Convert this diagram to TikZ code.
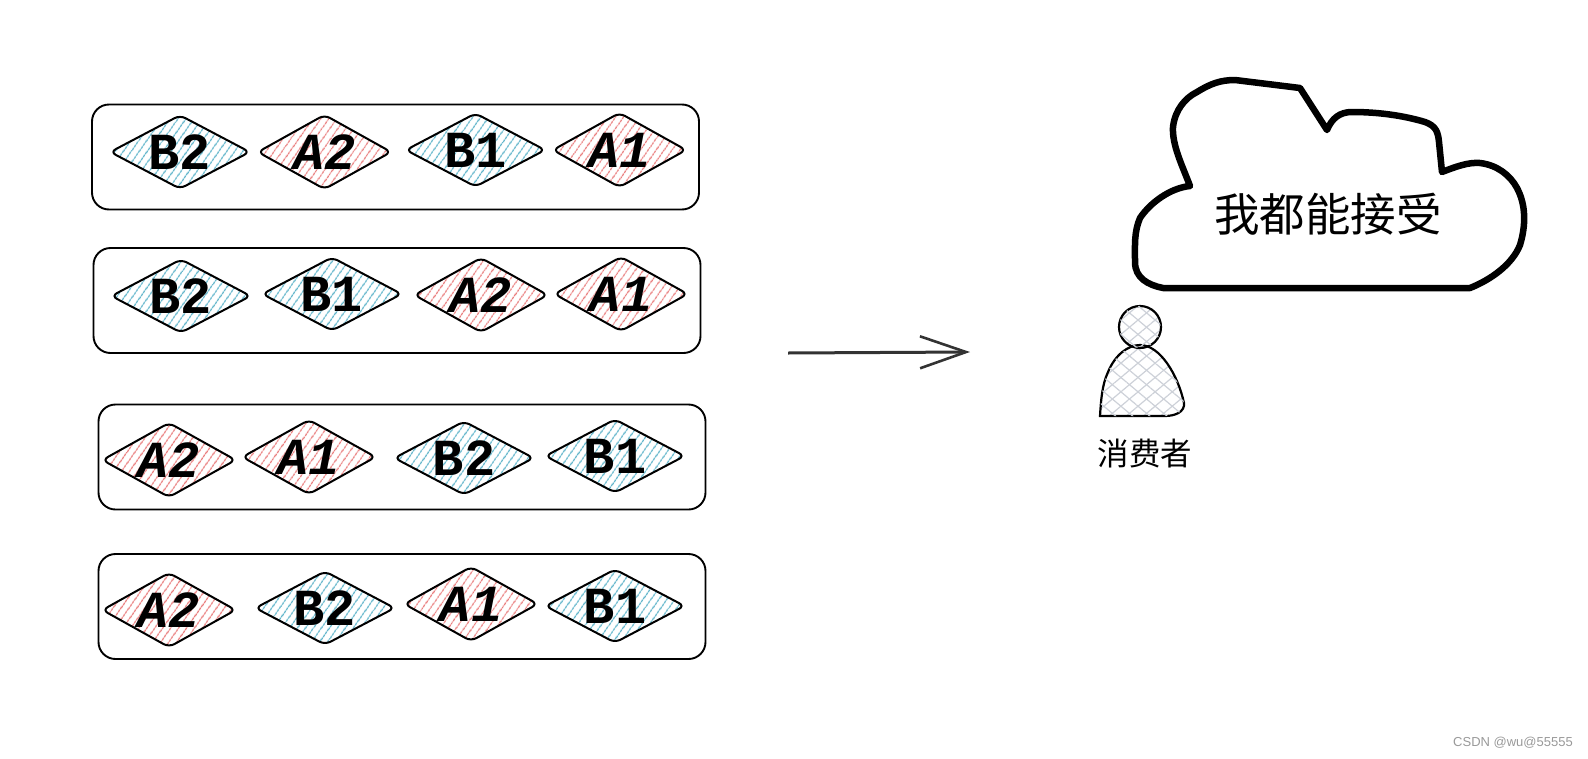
\documentclass[tikz,border=0pt]{standalone}
\usepackage{fontspec}
\newfontfamily\cjk{Noto Sans CJK SC}
\newfontfamily\wmark{Liberation Sans}
\newfontfamily\sketchfont{Liberation Mono}
\usetikzlibrary{arrows.meta,shapes.geometric,patterns.meta}
\definecolor{hatchblue}{HTML}{5FB4CA}
\definecolor{hatchred}{HTML}{E97C7C}
\definecolor{hatchgray}{HTML}{CDD1D8}
\tikzset{
  rowbox/.style={draw, line width=1.9pt, rounded corners=17pt, minimum width=607pt, minimum height=105pt},
  bluedia/.style={diamond, aspect=2, draw, line width=2pt, rounded corners=6pt, inner sep=0pt, minimum width=140pt, minimum height=74pt,
    pattern={Lines[angle=55,distance=6.5pt,line width=1.4pt]}, pattern color=hatchblue, font=\fontsize{52}{52}\selectfont\sketchfont\bfseries},
  reddia/.style={diamond, aspect=2, draw, line width=2pt, rounded corners=6pt, inner sep=0pt, minimum width=134pt, minimum height=75pt,
    pattern={Lines[angle=55,distance=6.5pt,line width=1.4pt]}, pattern color=hatchred, font=\fontsize{52}{52}\selectfont\sketchfont\bfseries\itshape},
  manpart/.style={draw, line width=2.2pt, pattern={Lines[angle=40,distance=11pt,line width=1.2pt]}, pattern color=hatchgray},
  manhatch/.style={pattern={Lines[angle=-40,distance=11pt,line width=1.2pt]}, pattern color=hatchgray},
}
\begin{document}
\begin{tikzpicture}[x=1pt, y=-1pt]
  \useasboundingbox (0,0) rectangle (1588,758);

  % ====== row 1: B2 A2 B1 A1 ======
  \begin{scope}[shift={(395.5,157)}]
    \node[rowbox] (row1) at (0,0) {};
    \node[bluedia] (r1b2) at (-215.5,-5) {B2};
    \node[reddia]  (r1a2) at (-71,-5) {A2};
    \node[bluedia] (r1b1) at (80,-7) {B1};
    \node[reddia]  (r1a1) at (224,-7) {A1};
  \end{scope}

  % ====== row 2: B2 B1 A2 A1 ======
  \begin{scope}[shift={(397,300.5)}]
    \node[rowbox] (row2) at (0,0) {};
    \node[bluedia] (r2b2) at (-216,-4.5) {B2};
    \node[bluedia] (r2b1) at (-65,-6.5) {B1};
    \node[reddia]  (r2a2) at (84,-5.5) {A2};
    \node[reddia]  (r2a1) at (224,-6.5) {A1};
  \end{scope}

  % ====== row 3: A2 A1 B2 B1 ======
  \begin{scope}[shift={(402,457)}]
    \node[rowbox] (row3) at (0,0) {};
    \node[reddia]  (r3a2) at (-233,3) {A2};
    \node[reddia]  (r3a1) at (-93,0) {A1};
    \node[bluedia] (r3b2) at (62,1) {B2};
    \node[bluedia] (r3b1) at (213,-1) {B1};
  \end{scope}

  % ====== row 4: A2 B2 A1 B1 ======
  \begin{scope}[shift={(402,606.5)}]
    \node[rowbox] (row4) at (0,0) {};
    \node[reddia]  (r4a2) at (-233,3.5) {A2};
    \node[bluedia] (r4b2) at (-77,1.5) {B2};
    \node[reddia]  (r4a1) at (69,-2.5) {A1};
    \node[bluedia] (r4b1) at (213,-0.5) {B1};
  \end{scope}

  % ====== arrow ======
  \coordinate (from) at (788,353);
  \coordinate (to) at (970,352);
  \draw[line width=3pt, black!80, -{Straight Barb[length=46pt, width=32pt, line width=2.6pt]}] (from) -- (to);

  % ====== cloud ======
  \draw[line width=6.5pt, line join=round]
    (1190,186) .. controls (1182,165) and (1172,145) .. (1173,127)
    .. controls (1175,110) and (1185,98) .. (1197,92)
    .. controls (1210,84) and (1220,80) .. (1235,80)
    -- (1300,88) -- (1327,130)
    .. controls (1332,118) and (1340,112) .. (1352,112)
    .. controls (1380,112) and (1405,116) .. (1425,122)
    .. controls (1436,126) and (1438,132) .. (1439,142)
    -- (1442,172)
    .. controls (1455,167) and (1468,162) .. (1480,163)
    .. controls (1497,165) and (1510,175) .. (1517,188)
    .. controls (1526,205) and (1526,225) .. (1520,245)
    .. controls (1512,265) and (1490,280) .. (1470,288)
    -- (1163,288)
    .. controls (1148,285) and (1135,278) .. (1135,262)
    .. controls (1135,245) and (1134,232) .. (1140,218)
    .. controls (1150,203) and (1170,188) .. (1190,186) -- cycle;
  \node[font=\fontsize{45.5}{45.5}\selectfont\cjk] (think) at (1328,214) {我都能接受};

  % ====== consumer ======
  \filldraw[manpart, postaction={manhatch}] (1140,345)
    .. controls (1160,345) and (1178,375) .. (1184,403)
    .. controls (1185,412) and (1175,416) .. (1165,416)
    -- (1100,416)
    .. controls (1101,400) and (1102,385) .. (1108,372)
    .. controls (1115,355) and (1128,345) .. (1140,345) -- cycle;
  \node[circle, manpart, postaction={manhatch}, minimum size=42pt, inner sep=0pt] (head) at (1140,327) {};
  \node[font=\fontsize{31.5}{31.5}\selectfont\cjk] (consumer) at (1145,454) {消费者};

  % ====== watermark ======
  \node[text=gray!80, font=\fontsize{13}{13}\selectfont\wmark] (mark) at (1513,743) {CSDN @wu@55555};

\end{tikzpicture}
\end{document}
